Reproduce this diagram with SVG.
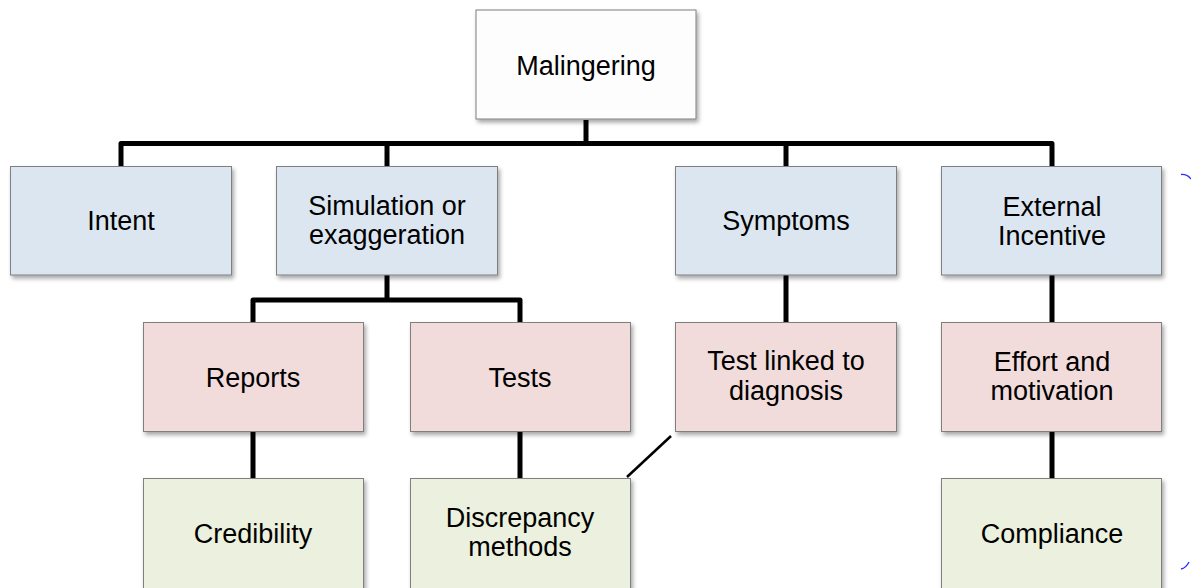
<svg xmlns="http://www.w3.org/2000/svg" width="1191" height="588" viewBox="0 0 1191 588">
<style>
.box{stroke:#7f7f7f;stroke-width:1;filter:url(#sh)}
.top{fill:#fdfdfd}
.blue{fill:#dce6f1}
.pink{fill:#f2dcdb}
.green{fill:#ebf1de}
text{font-family:"Liberation Sans",Arial,sans-serif;font-size:27px;fill:#000;text-anchor:middle}
.conn{fill:none;stroke:#000;stroke-width:5;stroke-linejoin:round}
.thin{fill:none;stroke:#000;stroke-width:2.5}
.brace{fill:none;stroke:#2b2bff;stroke-width:1.3}
</style>
<defs>
<filter id="sh" x="-10%" y="-10%" width="120%" height="130%">
<feDropShadow dx="2" dy="3" stdDeviation="2" flood-color="#000" flood-opacity="0.35"/>
</filter>
</defs>
<g id="connectors">
<path class="conn" d="M586,120 V143.5"/>
<path class="conn" d="M121,166 V143.5 H1052 V166"/>
<path class="conn" d="M387,143.5 V166"/>
<path class="conn" d="M786,143.5 V166"/>
<path class="conn" d="M387,275 V300"/>
<path class="conn" d="M253,322 V300 H520 V322"/>
<path class="conn" d="M786,275 V322"/>
<path class="conn" d="M1052,275 V322"/>
<path class="conn" d="M253,432 V478"/>
<path class="conn" d="M520,432 V478"/>
<path class="conn" d="M1052,432 V478"/>
<path class="thin" d="M671,436 L627,477"/>
</g>
<g id="n-malingering"><rect class="box top" x="476" y="10" width="220" height="109"/><text x="586" y="75">Malingering</text></g>
<g id="n-intent"><rect class="box blue" x="10.5" y="166.5" width="221" height="108.5"/><text x="121" y="230">Intent</text></g>
<g id="n-simulation"><rect class="box blue" x="276.5" y="166.5" width="221" height="108.5"/><text x="387" y="215">Simulation or</text><text x="387" y="244">exaggeration</text></g>
<g id="n-symptoms"><rect class="box blue" x="675.5" y="166.5" width="221" height="108.5"/><text x="786" y="230">Symptoms</text></g>
<g id="n-external"><rect class="box blue" x="941.5" y="166.5" width="220" height="108.5"/><text x="1052" y="216">External</text><text x="1052" y="245">Incentive</text></g>
<g id="n-reports"><rect class="box pink" x="143.5" y="322.5" width="220" height="109"/><text x="253" y="387">Reports</text></g>
<g id="n-tests"><rect class="box pink" x="410.5" y="322.5" width="220" height="109"/><text x="520" y="387">Tests</text></g>
<g id="n-testlinked"><rect class="box pink" x="675.5" y="322.5" width="221" height="109"/><text x="786" y="370">Test linked to</text><text x="786" y="400">diagnosis</text></g>
<g id="n-effort"><rect class="box pink" x="941.5" y="322.5" width="220" height="109"/><text x="1052" y="371">Effort and</text><text x="1052" y="400">motivation</text></g>
<g id="n-credibility"><rect class="box green" x="143.5" y="478.5" width="220" height="112"/><text x="253" y="543">Credibility</text></g>
<g id="n-discrepancy"><rect class="box green" x="410.5" y="478.5" width="220" height="112"/><text x="520" y="527">Discrepancy</text><text x="520" y="556">methods</text></g>
<g id="n-compliance"><rect class="box green" x="941.5" y="478.5" width="220" height="112"/><text x="1052" y="543">Compliance</text></g>
<path class="brace" d="M1181,174.5 Q1187,174 1191,179"/>
<path class="brace" d="M1181,569 Q1186,568 1189,562"/>
</svg>
